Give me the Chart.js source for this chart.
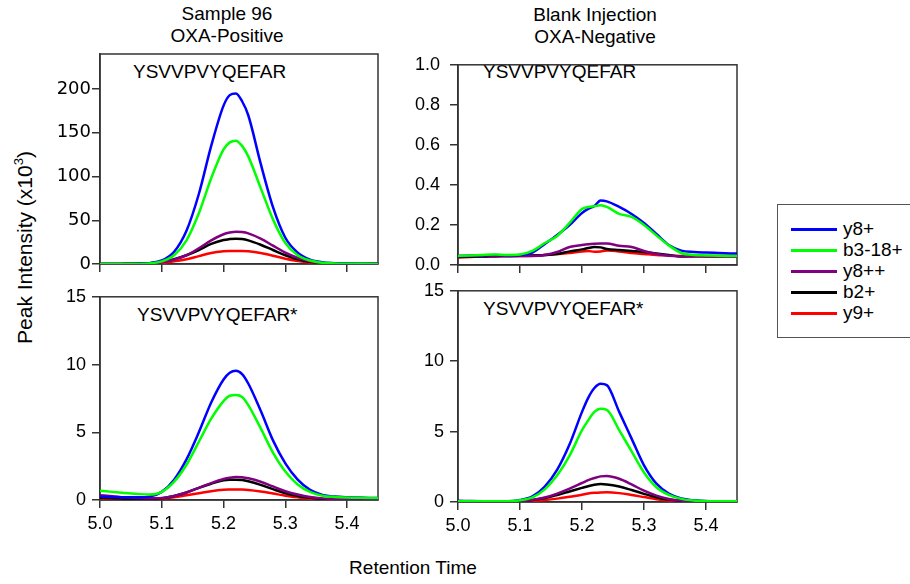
<!DOCTYPE html>
<html>
<head>
<meta charset="utf-8">
<script src="https://cdn.jsdelivr.net/npm/chart.js@4.4.0/dist/chart.umd.min.js"></script>
<style>
  body { margin: 0; width: 910px; height: 584px; overflow: hidden; position: relative; background: #fff; font-family: "Liberation Sans", Arial, sans-serif; color: #000; }
  canvas { position: absolute; }
  .txt { position: absolute; white-space: nowrap; font-size: 19px; line-height: 1; }
  .title { position: absolute; text-align: center; font-size: 19px; line-height: 22px; width: 240px; }
  #legend { position: absolute; left: 777px; top: 204px; width: 150px; height: 132px; border: 1px solid #555; }
  .swatch { position: absolute; left: 13px; width: 46px; height: 3px; }
  .legtxt { position: absolute; left: 65px; font-size: 19px; line-height: 1; }
</style>
</head>
<body>
<div class="title" style="left:107px;top:3px">Sample 96<br>OXA-Positive</div>
<div class="title" style="left:475px;top:4px">Blank Injection<br>OXA-Negative</div>

<div class="txt" style="left:133px;top:62px">YSVVPVYQEFAR</div>
<div class="txt" style="left:483px;top:62px">YSVVPVYQEFAR</div>
<div class="txt" style="left:137px;top:305px">YSVVPVYQEFAR*</div>
<div class="txt" style="left:483px;top:299px">YSVVPVYQEFAR*</div>

<div class="txt" style="left:-106px;top:237px;width:260px;text-align:center;font-size:21px;transform:rotate(-90deg)">Peak Intensity (x10<sup style="font-size:13px;vertical-align:9px;line-height:0">3</sup>)</div>
<div class="txt" style="left:313px;top:558px;width:200px;text-align:center">Retention Time</div>

<div id="legend"></div>

<canvas id="chartTL"></canvas>
<canvas id="chartTR"></canvas>
<canvas id="chartBL"></canvas>
<canvas id="chartBR"></canvas>

<script>
// retention time points (min), shared by all four panels
const retentionTimes = [5.00, 5.02, 5.04, 5.06, 5.08, 5.10, 5.12, 5.14, 5.16, 5.18, 5.20, 5.21, 5.22, 5.23, 5.24, 5.26, 5.28, 5.30, 5.32, 5.34, 5.36, 5.38, 5.40, 5.42, 5.44, 5.45];

const seriesNames = ["y8+", "b3-18+", "y8++", "b2+", "y9+"];
const seriesColors = ["#0000ff", "#00ff00", "#800080", "#000000", "#ff0000"];
// lower order is drawn on top (green over blue etc.)
const seriesOrder = [1, 0, 2, 3, 4];

// Sample 96, YSVVPVYQEFAR (x10^3)
const s96Y8 = [0, 0, 0, 0.2, 1, 4, 14, 38, 80, 135, 181, 193, 195, 186, 170, 115, 65, 30, 13, 5, 2, 1, 0.5, 0.3, 0.2, 0.2];
const s96B3 = [0, 0, 0, 0.1, 0.7, 3, 10, 27, 58, 98, 131, 139, 141, 135, 123, 87, 51, 24, 10, 4, 1.5, 0.7, 0.3, 0.2, 0.1, 0.1];
const s96Y8pp = [0, 0, 0, 0.1, 0.5, 2, 5, 10, 18, 27, 34, 36, 37, 36.5, 35, 29, 21, 13, 7, 3, 1.2, 0.4, 0.1, 0, 0, 0];
const s96B2 = [0, 0, 0.2, 0.4, 1, 2.5, 5.5, 10, 16, 23, 27.5, 28.5, 29, 28.5, 27, 22, 16, 10, 5.5, 2.5, 1, 0.4, 0.1, 0, 0, 0];
const s96Y9 = [0, 0, 0, 0, 0.3, 1, 3, 5.5, 9, 12.5, 14.5, 15, 15, 15, 14.5, 12.5, 9.5, 6, 3.5, 1.8, 0.8, 0.3, 0.1, 0, 0, 0];

// Blank injection, YSVVPVYQEFAR
const blankY8 = [0.045, 0.046, 0.048, 0.05, 0.048, 0.05, 0.062, 0.105, 0.15, 0.2, 0.26, 0.28, 0.295, 0.322, 0.318, 0.29, 0.255, 0.21, 0.155, 0.1, 0.072, 0.065, 0.062, 0.06, 0.058, 0.057];
const blankB3 = [0.045, 0.047, 0.05, 0.052, 0.05, 0.052, 0.07, 0.11, 0.145, 0.21, 0.28, 0.29, 0.293, 0.298, 0.29, 0.255, 0.24, 0.2, 0.148, 0.098, 0.06, 0.05, 0.048, 0.046, 0.045, 0.045];
const blankY8pp = [0.045, 0.046, 0.047, 0.046, 0.045, 0.045, 0.045, 0.05, 0.065, 0.09, 0.1, 0.104, 0.106, 0.107, 0.107, 0.096, 0.09, 0.07, 0.055, 0.046, 0.044, 0.044, 0.043, 0.043, 0.043, 0.043];
const blankB2 = [0.04, 0.042, 0.042, 0.044, 0.045, 0.046, 0.048, 0.05, 0.055, 0.068, 0.078, 0.085, 0.09, 0.088, 0.08, 0.075, 0.07, 0.065, 0.058, 0.05, 0.042, 0.044, 0.045, 0.045, 0.045, 0.045];
const blankY9 = [0.038, 0.04, 0.042, 0.043, 0.044, 0.045, 0.046, 0.05, 0.055, 0.06, 0.068, 0.07, 0.066, 0.068, 0.072, 0.068, 0.06, 0.055, 0.05, 0.048, 0.045, 0.044, 0.043, 0.042, 0.042, 0.042];

// Sample 96, YSVVPVYQEFAR*
const s96StarY8 = [0.25, 0.22, 0.2, 0.2, 0.25, 0.6, 1.5, 3.0, 5.0, 7.2, 8.9, 9.4, 9.55, 9.3, 8.6, 6.6, 4.4, 2.7, 1.5, 0.75, 0.38, 0.25, 0.2, 0.18, 0.15, 0.15];
const s96StarB3 = [0.68, 0.6, 0.52, 0.45, 0.4, 0.6, 1.35, 2.6, 4.3, 6.0, 7.3, 7.7, 7.75, 7.6, 7.0, 5.3, 3.5, 2.1, 1.15, 0.6, 0.32, 0.22, 0.18, 0.16, 0.15, 0.15];
const s96StarY8pp = [0.35, 0.28, 0.2, 0.15, 0.12, 0.15, 0.3, 0.55, 0.9, 1.25, 1.55, 1.65, 1.7, 1.68, 1.6, 1.35, 1.0, 0.65, 0.4, 0.22, 0.12, 0.08, 0.05, 0.04, 0.03, 0.03];
const s96StarB2 = [0.15, 0.12, 0.1, 0.08, 0.08, 0.12, 0.3, 0.55, 0.9, 1.2, 1.45, 1.5, 1.5, 1.47, 1.38, 1.12, 0.8, 0.5, 0.3, 0.16, 0.08, 0.05, 0.03, 0.02, 0.02, 0.02];
const s96StarY9 = [0.05, 0.05, 0.04, 0.04, 0.05, 0.1, 0.2, 0.35, 0.5, 0.65, 0.75, 0.77, 0.78, 0.77, 0.74, 0.63, 0.48, 0.32, 0.2, 0.1, 0.05, 0.03, 0.03, 0.02, 0.02, 0.02];

// Blank injection, YSVVPVYQEFAR*
const blankStarY8 = [0.08, 0.07, 0.06, 0.05, 0.05, 0.14, 0.4, 1.1, 2.3, 4.1, 6.4, 7.4, 8.1, 8.4, 8.3, 6.4, 4.5, 2.6, 1.3, 0.6, 0.25, 0.12, 0.07, 0.05, 0.04, 0.04];
const blankStarB3 = [0.05, 0.05, 0.05, 0.05, 0.05, 0.12, 0.33, 0.9, 1.9, 3.3, 5.1, 5.8, 6.4, 6.62, 6.55, 5.1, 3.6, 2.1, 1.05, 0.5, 0.22, 0.1, 0.06, 0.05, 0.05, 0.05];
const blankStarY8pp = [0, 0, 0, 0, 0.02, 0.06, 0.15, 0.32, 0.6, 0.95, 1.35, 1.55, 1.7, 1.82, 1.85, 1.65, 1.25, 0.8, 0.45, 0.22, 0.1, 0.05, 0.02, 0.01, 0, 0];
const blankStarB2 = [0, 0, 0, 0, 0.02, 0.06, 0.14, 0.28, 0.5, 0.75, 1.0, 1.12, 1.22, 1.27, 1.25, 1.1, 0.85, 0.58, 0.34, 0.17, 0.08, 0.04, 0.02, 0.01, 0, 0];
const blankStarY9 = [0, 0, 0, 0, 0.01, 0.03, 0.07, 0.14, 0.24, 0.37, 0.52, 0.6, 0.65, 0.68, 0.69, 0.63, 0.5, 0.35, 0.2, 0.1, 0.05, 0.02, 0.01, 0, 0, 0];

// tick labels
const xTicks = [5.0, 5.1, 5.2, 5.3, 5.4];
const topLeftYTicks = [0, 50, 100, 150, 200];
const topRightYTicks = [0, 0.2, 0.4, 0.6, 0.8, 1.0];
const bottomYTicks = [0, 5, 10, 15];

// draw the box around each plot area, under the curves
const framePlugin = {
  id: "frame",
  beforeDatasetsDraw(chart) {
    const a = chart.chartArea;
    const ctx = chart.ctx;
    ctx.save();
    ctx.strokeStyle = "#333";
    ctx.lineWidth = 1.5;
    ctx.strokeRect(a.left, a.top, a.right - a.left, a.bottom - a.top);
    ctx.restore();
  },
};

function makePanel(id, area, values, yMax, yTicks, opt) {
  const canvas = document.getElementById(id);
  // canvas leaves 80px for the y axis, 45px for the x axis, 12px on top/right
  canvas.width = area.r - area.l + 92;
  canvas.height = area.b - area.t + 57;
  canvas.style.left = (area.l - 80) + "px";
  canvas.style.top = (area.t - 12) + "px";

  const datasets = values.map((vals, i) => ({
    label: seriesNames[i],
    data: vals.map((v, j) => ({ x: retentionTimes[j], y: v })),
    borderColor: seriesColors[i],
    borderWidth: 2.5,
    pointRadius: 0,
    cubicInterpolationMode: "monotone",
    order: seriesOrder[i],
  }));

  return new Chart(canvas.getContext("2d"), {
    type: "line",
    data: { datasets: datasets },
    plugins: [framePlugin],
    options: {
      responsive: false,
      animation: false,
      events: [],
      layout: { padding: { top: 12, right: 12, left: 0, bottom: 0 } },
      plugins: { legend: { display: false }, tooltip: { enabled: false } },
      scales: {
        x: {
          type: "linear",
          min: 5.0,
          max: 5.45,
          afterBuildTicks: (s) => { s.ticks = xTicks.map((v) => ({ value: v })); },
          afterFit: (s) => { s.height = 45; },
          grid: { drawOnChartArea: false, drawTicks: true, tickLength: 8, color: "#333", lineWidth: 1.5 },
          border: { color: "#333", width: 1.5 },
          ticks: {
            callback: (v) => (opt.xLabels ? Number(v).toFixed(1) : ""),
            color: "#000",
            font: { family: "Liberation Sans", size: 18 },
            padding: 5,
            maxRotation: 0,
            autoSkip: false,
          },
        },
        y: {
          type: "linear",
          min: 0,
          max: yMax,
          afterBuildTicks: (s) => { s.ticks = yTicks.map((v) => ({ value: v })); },
          afterFit: (s) => { s.width = 80; },
          grid: { drawOnChartArea: false, drawTicks: true, tickLength: 8, color: "#333", lineWidth: 1.5 },
          border: { color: "#333", width: 1.5 },
          ticks: {
            callback: (v) => (opt.decimals ? Number(v).toFixed(1) : String(v)),
            color: "#000",
            font: { family: opt.yFont || "Liberation Sans", size: 18 },
            padding: opt.yPad,
            autoSkip: false,
          },
        },
      },
    },
  });
}

makePanel("chartTL", { l: 100, t: 54, r: 378, b: 264 },
  [s96Y8, s96B3, s96Y8pp, s96B2, s96Y9], 240, topLeftYTicks,
  { xLabels: false, yPad: 1, yFont: "DejaVu Sans" });
makePanel("chartTR", { l: 458, t: 56, r: 737, b: 265 },
  [blankY8, blankB3, blankY8pp, blankB2, blankY9], 1.0, topRightYTicks,
  { xLabels: false, yPad: 10, decimals: true });
makePanel("chartBL", { l: 100, t: 292, r: 378, b: 500 },
  [s96StarY8, s96StarB3, s96StarY8pp, s96StarB2, s96StarY9], 15, bottomYTicks,
  { xLabels: true, yPad: 6 });
makePanel("chartBR", { l: 458, t: 286, r: 737, b: 502 },
  [blankStarY8, blankStarB3, blankStarY8pp, blankStarB2, blankStarY9], 15, bottomYTicks,
  { xLabels: true, yPad: 6 });

// legend box on the right
const legend = document.getElementById("legend");
seriesNames.forEach((name, i) => {
  const y = 24 + i * 21;
  const sw = document.createElement("div");
  sw.className = "swatch";
  sw.style.top = (y - 1) + "px";
  sw.style.background = seriesColors[i];
  legend.appendChild(sw);
  const t = document.createElement("div");
  t.className = "legtxt";
  t.style.top = (y - 10) + "px";
  t.textContent = name;
  legend.appendChild(t);
});
</script>
</body>
</html>
